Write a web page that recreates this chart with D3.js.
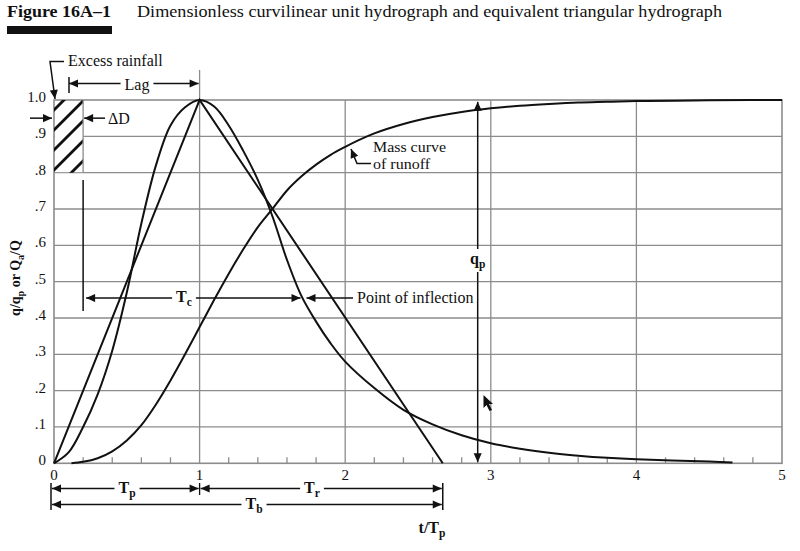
<!DOCTYPE html>
<html><head><meta charset="utf-8">
<script src="https://cdn.jsdelivr.net/npm/d3@7"></script>
<style>
body{margin:0;background:#fff}
svg{display:block}
text{font-family:"Liberation Serif","DejaVu Serif",serif;fill:#111}
</style>
</head><body>
<svg id="c" width="800" height="551"></svg>
<script>
// ---- data ----
const tRatio = [0,0.1,0.2,0.3,0.4,0.5,0.6,0.7,0.8,0.9,1.0,1.1,1.2,1.3,1.4,1.5,1.6,1.7,1.8,1.9,2.0,2.2,2.4,2.6,2.8,3.0,3.2,3.4,3.6,3.8,4.0,4.5,4.66];
const qRatio = [0,0.03,0.10,0.19,0.31,0.47,0.66,0.82,0.93,0.98,1.00,0.982,0.93,0.86,0.78,0.68,0.56,0.46,0.39,0.33,0.28,0.207,0.147,0.107,0.077,0.055,0.040,0.029,0.021,0.015,0.011,0.005,0.002];
const massT = [0.12,0.2,0.3,0.4,0.5,0.6,0.7,0.8,0.9,1.0,1.1,1.2,1.3,1.4,1.5,1.6,1.7,1.8,1.9,2.0,2.2,2.4,2.6,2.8,3.0,3.2,3.4,3.6,3.8,4.0,4.5,5.0];
const massRatio = [0.0,0.004,0.014,0.033,0.063,0.105,0.162,0.228,0.300,0.375,0.450,0.522,0.589,0.650,0.700,0.751,0.790,0.822,0.849,0.871,0.908,0.934,0.953,0.967,0.977,0.984,0.989,0.993,0.995,0.997,0.999,1.000];
const triT = [0,1,2.67];
const triQ = [0,1,0];
const xTickVals = [0,1,2,3,4,5];
const xTickLabels = ["0","1","2","3","4","5"];
const yTickVals = [0,0.1,0.2,0.3,0.4,0.5,0.6,0.7,0.8,0.9,1.0];
const yTickLabels = ["0",".1",".2",".3",".4",".5",".6",".7",".8",".9","1.0"];
const minorTickVals = [0.2,0.4,0.6,0.8,1.2,1.4,1.6,1.8,2.2,2.4,2.6,2.8,3.2,3.4,3.6,3.8,4.2,4.4,4.6,4.8];
const deltaD = 0.2, inflT = 1.7, inflQ = 0.455, qpT = 2.91, Tb = 2.67;

// ---- layout ----
const svg = d3.select("#c");
const x = d3.scaleLinear().domain([0,5]).range([54,782]);
const y = d3.scaleLinear().domain([0,1]).range([463.3,100]);
const GRID = "#8c8c8c", INK = "#111";

const defs = svg.append("defs");
defs.append("marker").attr("id","ah").attr("viewBox","0 0 10 10")
  .attr("refX",10).attr("refY",5).attr("markerWidth",10).attr("markerHeight",9)
  .attr("markerUnits","userSpaceOnUse").attr("orient","auto-start-reverse")
  .append("path").attr("d","M0,0.5 L10,5 L0,9.5 Z").attr("fill",INK);
defs.append("clipPath").attr("id","boxclip").append("rect")
  .attr("x",x(0)).attr("y",y(1)).attr("width",x(deltaD)-x(0)).attr("height",y(0.8)-y(1));

function line(x1,y1,x2,y2,opt={}){
  const l = svg.append("line").attr("x1",x1).attr("y1",y1).attr("x2",x2).attr("y2",y2)
    .attr("stroke",opt.color||INK).attr("stroke-width",opt.w||1.5);
  if(opt.start) l.attr("marker-start","url(#ah)");
  if(opt.end) l.attr("marker-end","url(#ah)");
  return l;
}
function label(px,py,parts,opt={}){
  const t = svg.append("text").attr("x",px).attr("y",py)
    .attr("font-size",opt.size||16).attr("font-weight",opt.bold?"bold":null)
    .attr("text-anchor",opt.anchor||"start");
  if(opt.rotate) t.attr("transform",`rotate(${opt.rotate},${px},${py})`);
  let inSub=false;
  parts.forEach(p=>{
    const isSub = Array.isArray(p);
    const s = isSub ? p[0] : p;
    const ts = t.append("tspan").text(s);
    if(isSub){ ts.attr("font-size",(opt.size||16)*0.72).attr("dy",inSub?0:4); inSub=true; }
    else { if(inSub) ts.attr("dy",-4); inSub=false; }
  });
  return t;
}
function gapBehind(t,pad=3){
  const b = t.node().getBBox();
  svg.insert("rect", () => t.node()).attr("x",b.x-pad).attr("y",b.y-1)
    .attr("width",b.width+2*pad).attr("height",b.height+2).attr("fill","#fff");
}

// ---- title ----
svg.append("text").attr("x",7).attr("y",17).attr("font-size",17).attr("font-weight","bold")
  .attr("textLength",104).attr("lengthAdjust","spacingAndGlyphs").text("Figure 16A–1");
svg.append("rect").attr("x",7).attr("y",26).attr("width",105).attr("height",8).attr("fill",INK);
svg.append("text").attr("x",137).attr("y",17).attr("font-size",16.5)
  .attr("textLength",585).attr("lengthAdjust","spacingAndGlyphs")
  .text("Dimensionless curvilinear unit hydrograph and equivalent triangular hydrograph");

// ---- grid ----
const g = svg.append("g");
yTickVals.filter(v=>v>0 && v<1).forEach(v=>{
  g.append("line").attr("x1",x(0)).attr("x2",x(5)).attr("y1",y(v)).attr("y2",y(v))
   .attr("stroke",GRID).attr("stroke-width",1.3);
});
xTickVals.filter(v=>v>0 && v<5).forEach(v=>{
  g.append("line").attr("x1",x(v)).attr("x2",x(v)).attr("y1",y(0)).attr("y2",y(1))
   .attr("stroke",GRID).attr("stroke-width",1.3);
});
minorTickVals.forEach(v=>{
  g.append("line").attr("x1",x(v)).attr("x2",x(v)).attr("y1",y(0)).attr("y2",y(0)-6)
   .attr("stroke",GRID).attr("stroke-width",1.3);
});
// lag end marker above plot
g.append("line").attr("x1",x(1)).attr("x2",x(1)).attr("y1",70).attr("y2",y(1))
  .attr("stroke",GRID).attr("stroke-width",1.3);
// border
g.append("rect").attr("x",x(0)).attr("y",y(1)).attr("width",x(5)-x(0)).attr("height",y(0)-y(1))
  .attr("fill","none").attr("stroke",GRID).attr("stroke-width",1.6);

// ---- excess rainfall box (hatched) ----
svg.append("rect").attr("x",x(0)+1).attr("y",y(1)+1).attr("width",x(deltaD)-x(0)-1).attr("height",y(0.8)-y(1)-1.5)
  .attr("fill","#fff");
const hatch = svg.append("g").attr("clip-path","url(#boxclip)");
[110,130,150,170,190].forEach(y0=>{
  hatch.append("line").attr("x1",x(0)-5).attr("y1",y0+5).attr("x2",x(deltaD)+5).attr("y2",y0-(x(deltaD)-x(0))-5)
    .attr("stroke",INK).attr("stroke-width",2.8);
});
line(x(deltaD),y(1),x(deltaD),y(0.8),{color:GRID,w:1.3});

// ---- axes labels ----
xTickVals.forEach((v,i)=>{
  svg.append("text").attr("x",x(v)).attr("y",480).attr("font-size",15)
    .attr("text-anchor","middle").text(xTickLabels[i]);
});
yTickVals.forEach((v,i)=>{
  svg.append("text").attr("x",46).attr("y",y(v)+2).attr("font-size",15)
    .attr("text-anchor","end").text(yTickLabels[i]);
});
label(20,278,["q/q",["p"]," or Q",["a"],"/Q"],{bold:true,size:14,anchor:"middle",rotate:-90});
label(432,533,["t/T",["p"]],{bold:true,size:16,anchor:"middle"});

// ---- curves ----
svg.append("path").attr("d",d3.line().x(d=>x(d[0])).y(d=>y(d[1]))(d3.zip(triT,triQ)))
  .attr("fill","none").attr("stroke",INK).attr("stroke-width",2);
const smooth = d3.line().x(d=>x(d[0])).y(d=>y(d[1])).curve(d3.curveCatmullRom.alpha(0.5));
svg.append("path").attr("d",smooth(d3.zip(tRatio,qRatio)))
  .attr("fill","none").attr("stroke",INK).attr("stroke-width",2);
const mono = d3.line().x(d=>x(d[0])).y(d=>y(d[1])).curve(d3.curveMonotoneX);
svg.append("path").attr("d",mono(d3.zip(massT,massRatio)))
  .attr("fill","none").attr("stroke",INK).attr("stroke-width",2);

// ---- annotations ----
// Excess rainfall
label(68,66,["Excess rainfall"]);
svg.append("path").attr("d",`M64,61.5 L50,61.5 L55,${y(1)-1}`).attr("fill","none")
  .attr("stroke",INK).attr("stroke-width",1.5).attr("marker-end","url(#ah)");
// Lag
line(69,77,69,93);
line(69,83.5,x(1)-1,83.5,{start:true,end:true});
gapBehind(label(137,90,["Lag"],{anchor:"middle"}),4);
// ΔD
line(30,y(0.95),x(0)-2,y(0.95),{end:true});
line(105,y(0.95),x(deltaD)+1,y(0.95),{end:true});
label(108,124,["ΔD"]);
// Tc
line(x(deltaD),180,x(deltaD),311);
line(x(deltaD)+3,y(inflQ),x(inflT)-1,y(inflQ),{start:true,end:true});
gapBehind(label(184,302,["T",["c"]],{bold:true,anchor:"middle"}),4);
// Point of inflection
line(353,y(inflQ),x(inflT)+5,y(inflQ),{end:true});
label(357,303,["Point of inflection"]);
// Mass curve label
svg.append("path").attr("d","M371,163.5 L357,163.5 L351,149").attr("fill","none")
  .attr("stroke",INK).attr("stroke-width",1.5).attr("marker-end","url(#ah)");
svg.append("text").attr("x",373).attr("y",151.5).attr("font-size",15)
  .attr("textLength",73).attr("lengthAdjust","spacingAndGlyphs").text("Mass curve");
svg.append("text").attr("x",373).attr("y",168.5).attr("font-size",15)
  .attr("textLength",57).attr("lengthAdjust","spacingAndGlyphs").text("of runoff");
// qp
line(x(qpT),y(0.5),x(qpT),y(0.995),{end:true});
line(x(qpT),y(0.5),x(qpT),y(0)-1,{end:true});
gapBehind(label(x(qpT),264,["q",["p"]],{bold:true,anchor:"middle"}),3);
// Tp / Tr / Tb
line(x(0)-3,483,x(0)-3,510);
line(x(Tb),483,x(Tb),510);
line(x(1),483,x(1),495,{w:1.3});
line(x(0)-2,488.5,x(1)-1,488.5,{start:true,end:true});
line(x(1)+1,488.5,x(Tb)-1,488.5,{start:true,end:true});
line(x(0)-2,504.5,x(Tb)-1,504.5,{start:true,end:true});
gapBehind(label(127,493,["T",["p"]],{bold:true,anchor:"middle"}),4);
gapBehind(label(312,493,["T",["r"]],{bold:true,anchor:"middle"}),4);
gapBehind(label(254,509,["T",["b"]],{bold:true,anchor:"middle"}),4);

// stray pointer glyph visible in the reference
svg.append("path").attr("d","M483.5,395 L483.5,408 L486.5,405 L489.5,411 L492,410 L489,404 L493,404 Z")
  .attr("fill",INK);
</script>
</body></html>
